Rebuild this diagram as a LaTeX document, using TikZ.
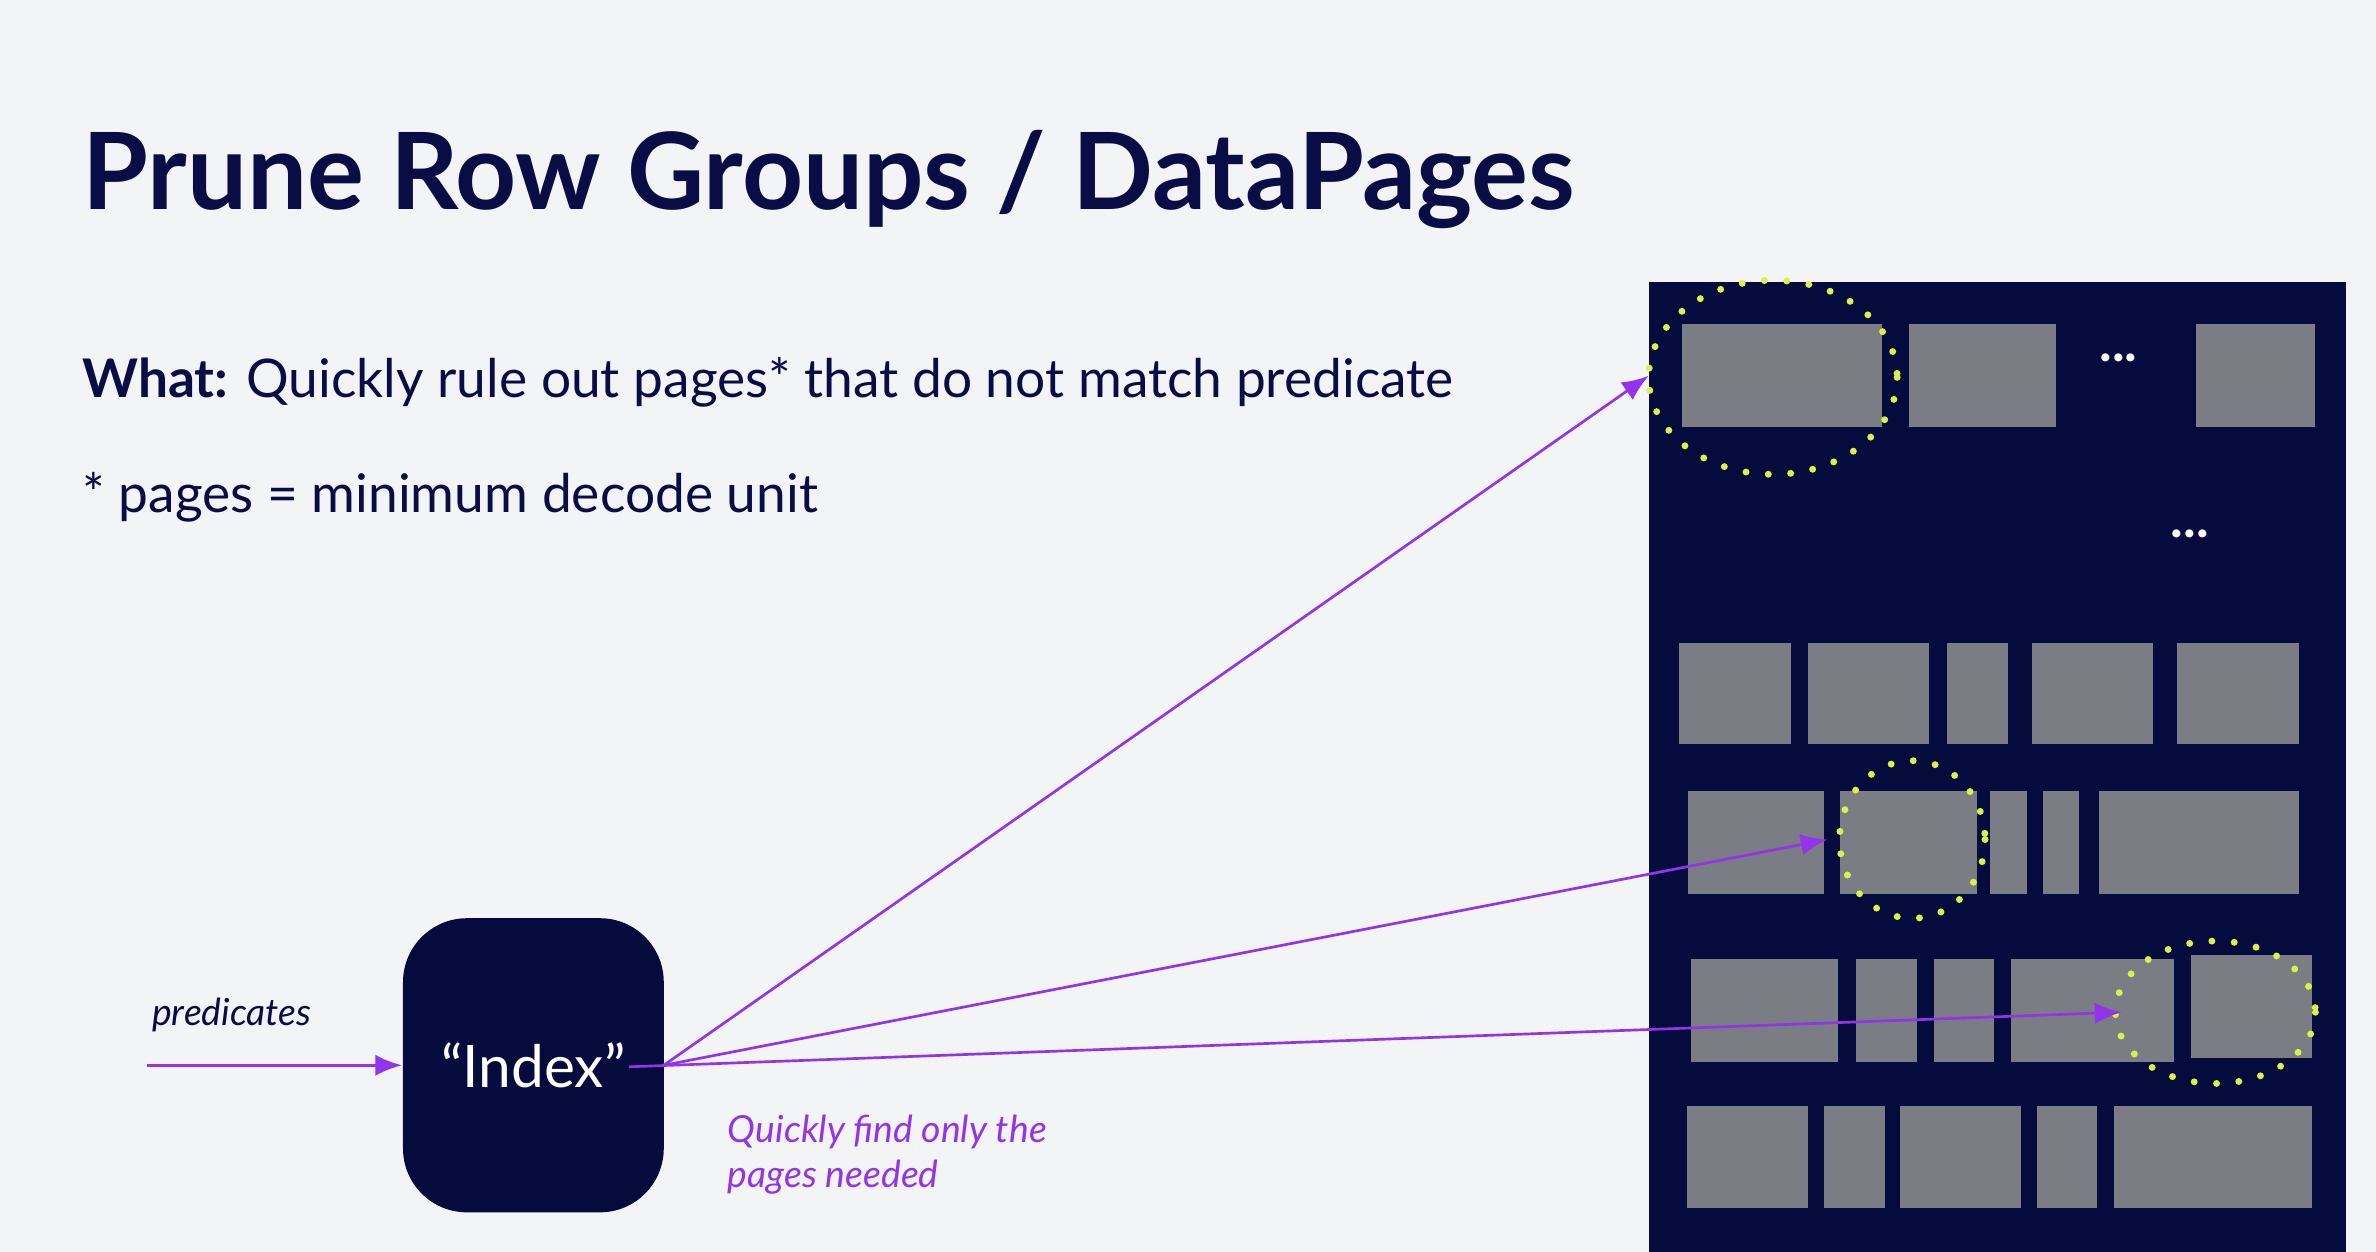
\documentclass[tikz,border=0pt]{standalone}
\usepackage{fontspec}
\setmainfont{Lato}
\usetikzlibrary{arrows.meta,positioning}
\definecolor{navy}{HTML}{0A0D45}
\definecolor{panel}{HTML}{060B3D}
\definecolor{page}{HTML}{7B7D85}
\definecolor{violet}{HTML}{9333EA}
\definecolor{lime}{HTML}{D8F24A}
\definecolor{bg}{HTML}{F3F4F6}
\newcommand{\pagebox}[4]{\fill[page] (#1,#3) rectangle (#2,#4);}
\begin{document}
\begin{tikzpicture}
[x=0.01cm,y=-0.01cm,
pointer/.style={draw=violet, line width=0.5pt, -{Latex[length=5pt,width=4pt]}},
hint/.style={text=violet, font=\fontsize{7}{8.5}\selectfont\itshape, anchor=west, align=left},
ring/.style={draw=lime, line width=1.3pt, dash pattern=on 0pt off 4.2pt, line cap=round}
  ]
\fill[bg] (0,0) rectangle (1568,826);
\node (title) [anchor=base west, text=navy, font=\fontsize{20}{24}\selectfont\bfseries] at (42,138) {Prune Row Groups / DataPages};
\node (what) [anchor=base west, text=navy, font=\fontsize{10}{12}\selectfont] at (42,262) {\textbf{What:} Quickly rule out pages* that do not match predicate};
\node (unit) [anchor=base west, text=navy, font=\fontsize{10}{12}\selectfont] at (42,338) {* pages = minimum decode unit};
% file layout
\fill[panel] (1088,186) rectangle (1548,826);
\pagebox{1110}{1242}{214}{282}
\pagebox{1260}{1357}{214}{282}
\pagebox{1449}{1528}{214}{282}
\node (dotsA) [text=white, font=\bfseries] at (1398,236) {...};
\node (dotsB) [text=white, font=\bfseries] at (1445,352) {...};
\foreach \a/\b in {1108/1182,1193/1273,1285/1325,1341/1421,1437/1517} {\pagebox{\a}{\b}{424}{491}}
\foreach \a/\b in {1114/1204,1214/1305,1313/1338,1348/1372,1385/1517} {\pagebox{\a}{\b}{522}{590}}
\foreach \a/\b in {1116/1213,1225/1265,1276/1316,1327/1435} {\pagebox{\a}{\b}{633}{701}}
\pagebox{1446}{1526}{630}{698}
\foreach \a/\b in {1113/1193,1204/1244,1254/1334,1344/1384,1395/1526} {\pagebox{\a}{\b}{730}{797}}
\draw[ring] (1170,249) ellipse [x radius=82, y radius=64];
\draw[ring] (1262,554) ellipse [x radius=48, y radius=52];
\draw[ring] (1462,668) ellipse [x radius=66, y radius=47];
% index
\node (index) [fill=panel, rounded corners=12pt, minimum width=172\pgflinewidth, text=white,
  font=\fontsize{11}{13}\selectfont, minimum width=1.72cm, minimum height=1.94cm] at (352,703) {“Index”};
\coordinate (src) at (97,703);
\node (predlabel) [text=navy, font=\fontsize{7}{8.5}\selectfont\itshape] at (153,670) {predicates};
\draw[pointer] (src) -- (index.west);
\coordinate (out) at (438,703);
\coordinate (hitA) at (1088,248);
\coordinate (hitB) at (1206,554);
\coordinate (hitC) at (1400,668);
\draw[pointer] (out) -- (hitA);
\draw[pointer] (out) -- (hitB);
\draw[pointer] (415,704) -- (hitC);
\node (needed) [hint] at (468,762) {Quickly find only the\\pages needed};
\end{tikzpicture}
\end{document}
